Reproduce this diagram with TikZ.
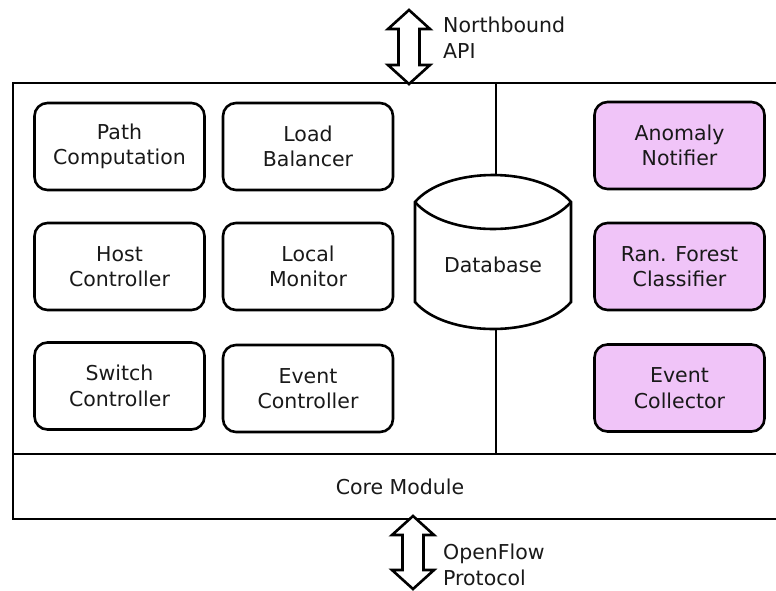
\documentclass[tikz,border=0pt]{standalone}
\usepackage{fontspec}
\setmainfont{DejaVu Sans}
\definecolor{pinkfill}{RGB}{240,196,248}
\begin{document}
\begin{tikzpicture}[x=1pt,y=-1pt,
  every node/.style={font=\fontsize{20.5}{25.5}\selectfont, text=black!90},
  modbox/.style={draw, line width=2.6pt, rounded corners=13pt, minimum width=170pt, minimum height=87pt, align=center, inner sep=0pt},
  pinkbox/.style={modbox, fill=pinkfill},
  frame/.style={line width=2.6pt},
  blockarrow/.style={draw, line width=2.6pt, fill=white, line join=miter},
  lbl/.style={align=left, anchor=west, inner sep=0pt}]
\clip (0,0) rectangle (776,590);
% outer frame
\draw[frame] (13,83) rectangle (800,519);
\draw[frame] (13,454) -- (800,454);
\node (core) at (400,487) {Core Module};
% database
\coordinate (dbtop) at (496,175);
\coordinate (dbbot) at (496,327);
\draw[frame] (496,83) -- (dbtop);
\draw[frame] (dbbot) -- (496,454);
\draw[frame, fill=white] (415,202) .. controls (446,166) and (540,166) .. (571,202)
  -- (571,302) .. controls (540,338) and (446,338) .. (415,302) -- cycle;
\draw[frame] (415,202) .. controls (446,238) and (540,238) .. (571,202);
\node (db) at (493,265) {Database};
% left modules
\node[modbox] (path) at (119.5,146.5) {Path\\Computation};
\node[modbox] (load) at (308,146.5) {Load\\Balancer};
\node[modbox] (host) at (119.5,266.5) {Host\\Controller};
\node[modbox] (local) at (308,266.5) {Local\\Monitor};
\node[modbox] (switch) at (119.5,386) {Switch\\Controller};
\node[modbox] (evctl) at (308,388.5) {Event\\Controller};
% right modules
\node[pinkbox] (anom) at (679.5,145.5) {Anomaly\\Notifier};
\node[pinkbox] (rf) at (679.5,266.5) {Ran. Forest\\Classifier};
\node[pinkbox] (coll) at (679.5,388) {Event\\Collector};
% northbound arrow
\draw[blockarrow] (409,10) -- (430,29) -- (419.5,29) -- (419.5,65) -- (430,65) -- (409,84)
  -- (388,65) -- (398.5,65) -- (398.5,29) -- (388,29) -- cycle;
\node[lbl] (nb) at (443,37.5) {Northbound\\API};
% openflow arrow
\draw[blockarrow] (413,516) -- (434,535) -- (423.5,535) -- (423.5,570) -- (434,570) -- (413,589)
  -- (392,570) -- (402.5,570) -- (402.5,535) -- (392,535) -- cycle;
\node[lbl] (of) at (443,565) {OpenFlow\\Protocol};
\end{tikzpicture}
\end{document}
